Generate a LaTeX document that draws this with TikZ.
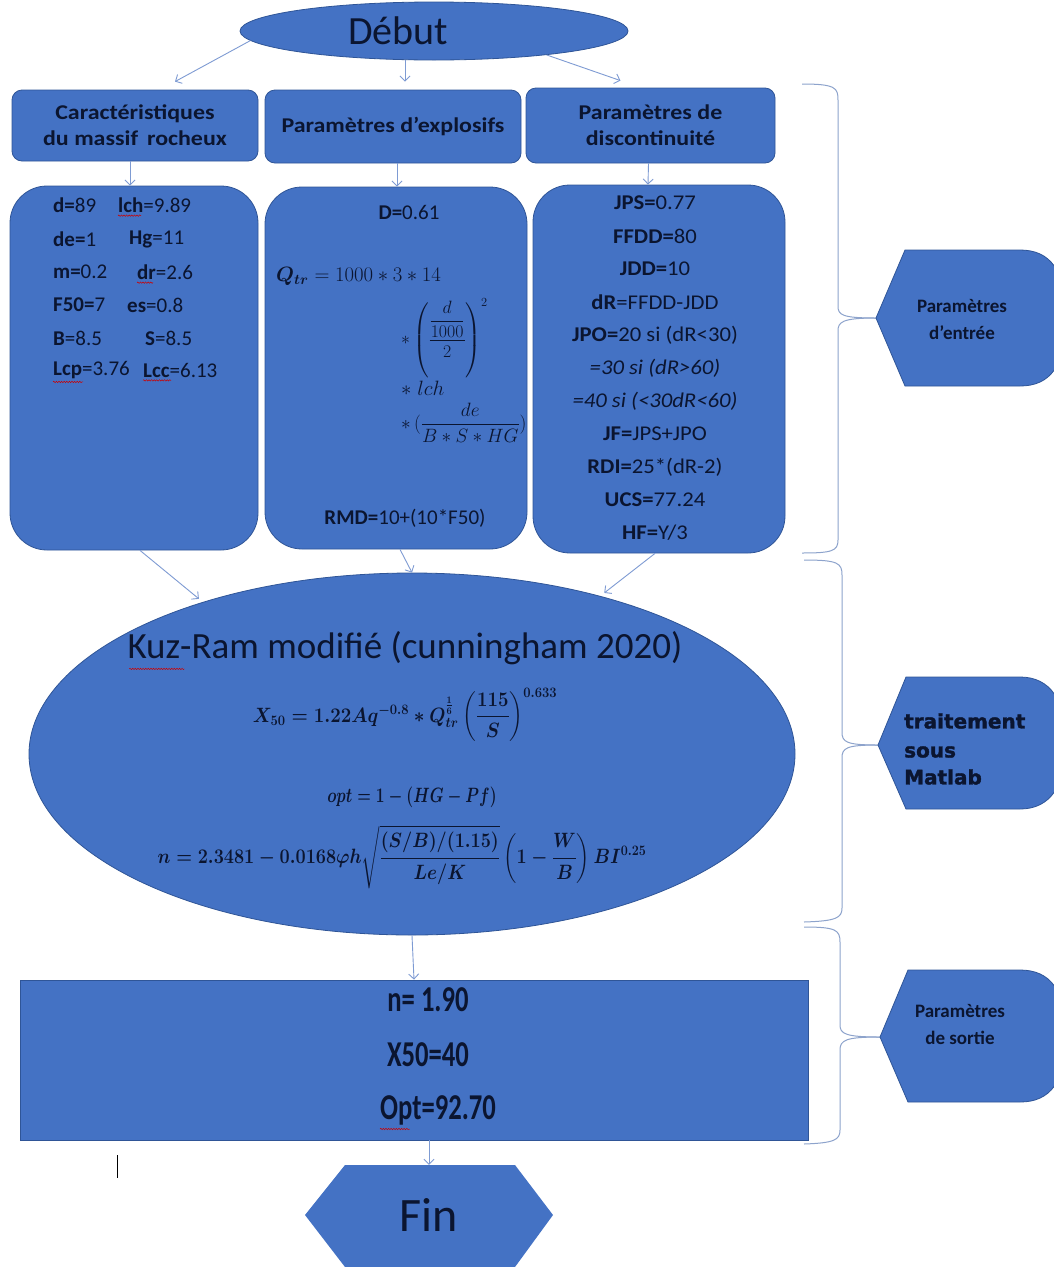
\documentclass[tikz,border=0pt]{standalone}
\usepackage{fontspec}
\usepackage{amsmath}
\setmainfont{Carlito}
\newfontfamily\heavyfont{DejaVu Sans}[FakeBold=1.5]
\usetikzlibrary{shapes.geometric,arrows.meta,decorations.pathmorphing,calc}
\definecolor{fillb}{HTML}{4472C4}
\definecolor{edgeb}{HTML}{2F5597}
\definecolor{arrowc}{HTML}{7E9BD3}
\definecolor{bracec}{HTML}{8DA3CC}
\definecolor{textc}{HTML}{0B1530}
\newcommand{\fs}[1]{\fontsize{#1}{#1}\selectfont}
\begin{document}
\begin{tikzpicture}[x=1pt,y=-1pt,
  box/.style={draw=edgeb, line width=0.8pt, fill=fillb, rounded corners=10pt, text=textc},
  bigbox/.style={draw=edgeb, line width=0.8pt, fill=fillb, rounded corners=37pt},
  arr/.style={draw=arrowc, line width=0.9pt, -{Straight Barb[length=5pt,width=10pt]}},
  brace/.style={draw=bracec, line width=1pt},
  side/.style={draw=edgeb, line width=0.8pt, fill=fillb},
  txt/.style={text=textc, inner sep=0pt, font=\fs{21}},
  ctxt/.style={text=textc, inner sep=0pt, font=\fs{21}\addfontfeature{FakeStretch=1.08}},
  head/.style={font=\fs{21}\bfseries\addfontfeature{FakeStretch=1.14}},
  wavy/.style={draw=red!80!black, line width=0.5pt, decorate, decoration={snake, amplitude=0.7pt, segment length=2.6pt}}
]
\clip (0,0) rectangle (1054,1267);
\fill[white] (0,0) rectangle (1054,1267);

% Start
\node[ellipse, fill=fillb, draw=edgeb, line width=0.8pt, minimum width=388pt, minimum height=58pt] (debut) at (434,31) {};
\node[txt, font=\fs{40}] (debutt) at (398,31) {Début};

% top boxes
\node[box, head, minimum width=246pt, minimum height=71pt, align=center] (b1) at (135,125.5)
  {Caractéristiques\\[5pt]du massif\ \,rocheux};
\node[box, head, minimum width=256pt, minimum height=73pt] (b2) at (393,126.5)
  {Paramètres d'explosifs};
\node[box, head, minimum width=249pt, minimum height=75pt, align=center] (b3) at (650.5,125.5)
  {Paramètres de\\[5pt]discontinuité};

% big boxes
\node[bigbox, minimum width=248pt, minimum height=364pt] (A) at (134,368) {};
\node[bigbox, minimum width=262pt, minimum height=362pt] (B) at (396,368) {};
\node[bigbox, minimum width=252pt, minimum height=368pt] (C) at (659,369) {};

% arrows top
\coordinate (m1) at ($(debut.south)+(-29,0)$);
\coordinate (m2) at ($(b2.north)+(12,-8)$);
\draw[arr] (debut.183) -- ($(b1.north)+(40,-8)$);
\draw[arr] (m1) -- (m2);
\draw[arr] (debut.-12) -- ($(b3.north)+(-30,-7)$);
\draw[arr] ($(b1.south)+(-5,0)$) -- ($(A.north)+(-4,0)$);
\draw[arr] ($(b2.south)+(4,0)$) -- ($(B.north)+(1,0)$);
\draw[arr] ($(b3.south)+(-2,0)$) -- ($(C.north)+(-11,0)$);

% Box A contents
\node[txt, anchor=west] (a1) at (53,205) {\textbf{d=}89};
\node[txt, anchor=west] (a2) at (118,205) {\textbf{lch}=9.89};
\node[txt, anchor=west] (a3) at (53,239) {\textbf{de=}1};
\node[txt, anchor=west] (a4) at (129,239) {\textbf{Hg}=11};
\node[txt, anchor=west] (a5) at (53,272) {\textbf{m=}0.2};
\node[txt, anchor=west] (a6) at (137,272) {\textbf{dr}=2.6};
\node[txt, anchor=west] (a7) at (53,305) {\textbf{F50=}7};
\node[txt, anchor=west] (a8) at (127,305) {\textbf{es}=0.8};
\node[txt, anchor=west] (a9) at (53,338) {\textbf{B}=8.5};
\node[txt, anchor=west] (a10) at (145,338) {\textbf{S}=8.5};
\node[txt, anchor=west] (a11) at (53,370) {\textbf{Lcp}=3.76};
\node[txt, anchor=west] (a12) at (143,370) {\textbf{Lcc}=6.13};
\draw[wavy] ($(a2.south west)+(0,3)$) -- ++(23,0);
\draw[wavy] ($(a6.south west)+(0,3)$) -- ++(16,0);
\draw[wavy] ($(a11.south west)+(0,3)$) -- ++(30,0);
\draw[wavy] ($(a12.south west)+(0,3)$) -- ++(28,0);

% Box B contents
\node[txt] (bD) at (409,212) {\textbf{D=}0.61};
\node[txt, anchor=west, font=\fs{20}] (bQ) at (276,276) {$\boldsymbol{Q_{tr}} = 1000 * 3 * 14$};
\node[txt, anchor=west, font=\fs{20}] (bQ2) at (401,338) {\scalebox{0.86}{$*\left(\dfrac{\dfrac{d}{1000}}{2}\right)^{2}$}};
\node[txt, anchor=west, font=\fs{20}] (bQ3) at (401,388) {$*\;lch$};
\node[txt, anchor=west, font=\fs{20}] (bQ4) at (401,423) {\scalebox{0.93}{$*\,(\dfrac{de}{B * S * HG})$}};
\node[txt] (bR) at (405,518) {\textbf{RMD=}10+(10*F50)};

% Box C contents
\node[ctxt] (c1) at (655,203) {\textbf{JPS=}0.77};
\node[ctxt] (c2) at (655,236) {\textbf{FFDD=}80};
\node[ctxt] (c3) at (655,269) {\textbf{JDD=}10};
\node[ctxt] (c4) at (655,302) {\textbf{dR}=FFDD-JDD};
\node[ctxt] (c5) at (655,335) {\textbf{JPO=}20 si (dR<30)};
\node[ctxt] (c6) at (655,368) {\itshape =30 si (dR>60)};
\node[ctxt] (c7) at (655,401) {\itshape =40 si (<30dR<60)};
\node[ctxt] (c8) at (655,434) {\textbf{JF=}JPS+JPO};
\node[ctxt] (c9) at (655,467) {\textbf{RDI=}25*(dR-2)};
\node[ctxt] (c10) at (655,500) {\textbf{UCS=}77.24};
\node[ctxt] (c11) at (655,533) {\textbf{HF=}Y/3};

% Kuz-Ram ellipse
\node[ellipse, fill=fillb, draw=edgeb, line width=0.8pt, minimum width=766pt, minimum height=362pt] (kuz) at (412,754) {};
\draw[arr, shorten >=5pt] ($(A.south)+(6,0)$) -- (kuz.144);
\draw[arr] ($(B.south)+(4,0)$) -- (kuz.north);
\draw[arr, shorten >=5pt] ($(C.south)+(-4,0)$) -- (kuz.40);

\node[txt, font=\fs{37}] (kt) at (405,648) {Kuz-Ram modifié (cunningham 2020)};
\draw[wavy] ($(kt.south west)+(2,4)$) -- ++(55,0);
\node[txt, font=\fs{20}\boldmath] (f1) at (405,715)
  {\scalebox{0.9}[1]{$\boldsymbol{X_{50} = 1.22Aq^{-0.8} * Q_{tr}^{\frac{1}{6}}\left(\dfrac{115}{S}\right)^{0.633}}$}};
\node[txt, font=\fs{20}\boldmath] (f2) at (412,797) {\scalebox{0.75}[1]{$\boldsymbol{opt = 1 - (HG - Pf)}$}};
\node[txt, font=\fs{20}\boldmath] (f3) at (402,857)
  {\scalebox{0.87}[1]{$\boldsymbol{n = 2.3481 - 0.0168\varphi h\sqrt{\dfrac{(S/B)/(1.15)}{Le/K}}\left(1 - \dfrac{W}{B}\right)BI^{0.25}}$}};

% output box
\node[draw=edgeb, line width=0.8pt, fill=fillb, minimum width=788pt, minimum height=160pt] (out) at (414,1060) {};
\draw[arr] (kuz.south) -- (out.north);
\node[txt, font=\fs{28}\bfseries] (o1) at (428,1000) {\scalebox{0.95}[1.3]{n= 1.90}};
\node[txt, font=\fs{28}\bfseries] (o2) at (428,1055) {\scalebox{0.95}[1.3]{X50=40}};
\node[txt, font=\fs{28}\bfseries] (o3) at (438,1110) {\scalebox{0.95}[1.3]{Opt=92.70}};
\draw[wavy] ($(o3.south west)+(0,4)$) -- ++(30,0);

% Fin
\fill[fillb] (345,1165) -- (515,1165) -- (553,1215) -- (515,1267) -- (345,1267) -- (305,1215) -- cycle;
\node[txt, font=\fs{48}, minimum height=100pt] (fin) at (429,1215) {Fin};
\draw[arr] (out.south -| fin.north) -- (fin.north);

% text cursor mark
\draw[black, line width=1pt] (117,1155) -- (117,1178);

% braces
\coordinate (t1) at (876,318);
\coordinate (t2) at (878,745);
\coordinate (t3) at (880,1037);
\draw[brace] (802,84) .. controls (836,84) and (838,88) .. (838,100) -- (838,306)
   .. controls (838,315) and (842,318) .. (t1);
\draw[brace] (t1) .. controls (842,318) and (838,322) .. (838,331) -- (838,540)
   .. controls (838,551) and (832,553) .. (802,553);
\draw[brace] (804,560) .. controls (838,560) and (842,563) .. (842,575) -- (842,732)
   .. controls (842,742) and (846,745) .. (t2);
\draw[brace] (t2) .. controls (846,745) and (842,748) .. (842,758) -- (842,908)
   .. controls (842,918) and (836,921) .. (804,922);
\draw[brace] (804,927) .. controls (836,927) and (840,930) .. (840,942) -- (840,1025)
   .. controls (840,1034) and (846,1037) .. (t3);
\draw[brace] (t3) .. controls (846,1037) and (840,1040) .. (840,1050) -- (840,1130)
   .. controls (840,1140) and (834,1143) .. (804,1144);

% side shapes
\path[side] (t1) -- (905,250) -- (1020,250) .. controls (1050,250) and (1066,270) .. (1066,318)
   .. controls (1066,366) and (1050,386) .. (1020,386) -- (905,386) -- cycle;
\path[side] (t2) -- (906,677) -- (1020,677) .. controls (1050,677) and (1066,700) .. (1066,743)
   .. controls (1066,786) and (1050,809) .. (1020,809) -- (906,809) -- cycle;
\path[side] (t3) -- (908,970) -- (1020,970) .. controls (1050,970) and (1066,990) .. (1066,1036)
   .. controls (1066,1082) and (1050,1102) .. (1020,1102) -- (908,1102) -- cycle;
\node[txt, align=center, font=\fs{19}\bfseries] (s1) at (962,320) {Paramètres\\[8pt]d’entrée};
\node[txt, align=left, anchor=west, font=\heavyfont\fs{20}\bfseries] (s2) at (904,749)
  {traitement\\[9pt]sous\\[7pt]Matlab};
\node[txt, align=center, font=\fs{19}\bfseries] (s3) at (960,1024) {Paramètres\\[8pt]de sortie};
\end{tikzpicture}
\end{document}
